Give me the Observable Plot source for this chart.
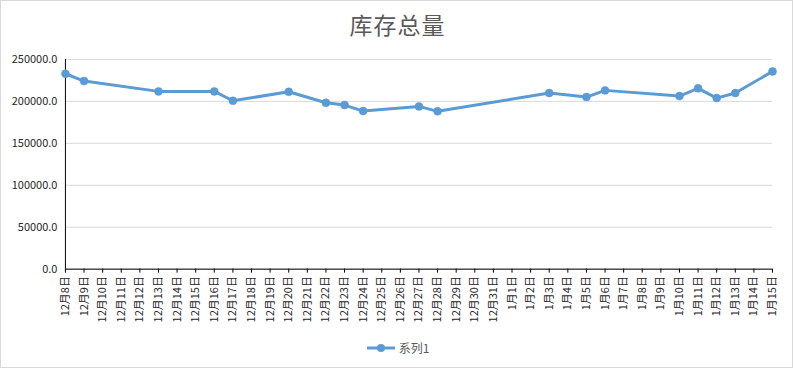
<!DOCTYPE html>
<html>
<head>
<meta charset="utf-8">
<script src="https://cdn.jsdelivr.net/npm/d3@7"></script>
<script src="https://cdn.jsdelivr.net/npm/@observablehq/plot@0.6"></script>
<style>
  html, body { margin: 0; padding: 0; background: #fff; }
  #wrap { position: relative; width: 793px; height: 368px; box-sizing: border-box; border: 1px solid #d9d9d9; overflow: hidden; font-family: "Noto Sans CJK SC", sans-serif; }
  #title { position: absolute; top: 6px; left: 0; width: 793px; text-align: center; font-size: 23px; color: #595959; font-family: "Noto Sans CJK SC", serif; letter-spacing: 1px; }
  #chart { position: absolute; top: -1px; left: -1px; }
  #legend { position: absolute; top: 338px; left: 0; width: 793px; display: flex; justify-content: center; align-items: center; font-size: 12px; color: #595959; }
  #legend svg { margin-right: 3px; }
</style>
</head>
<body>
<div id="wrap">
  <div id="title">库存总量</div>
  <div id="chart"></div>
  <div id="legend"><svg width="30" height="14"><line x1="1" y1="7" x2="29" y2="7" stroke="#5B9BD5" stroke-width="3"/><circle cx="15" cy="7" r="4" fill="#5B9BD5"/></svg><span>系列1</span></div>
</div>
<script>
const categories = [
  "12月8日","12月9日","12月10日","12月11日","12月12日","12月13日","12月14日","12月15日",
  "12月16日","12月17日","12月18日","12月19日","12月20日","12月21日","12月22日","12月23日",
  "12月24日","12月25日","12月26日","12月27日","12月28日","12月29日","12月30日","12月31日",
  "1月1日","1月2日","1月3日","1月4日","1月5日","1月6日","1月7日","1月8日","1月9日",
  "1月10日","1月11日","1月12日","1月13日","1月14日","1月15日"
];
const seriesDates = [
  "12月8日","12月9日","12月13日","12月16日","12月17日","12月20日","12月22日","12月23日",
  "12月24日","12月27日","12月28日","1月3日","1月5日","1月6日","1月10日","1月11日",
  "1月12日","1月13日","1月15日"
];
const seriesValues = [
  232900, 224200, 211900, 211900, 200700, 211400, 198300, 195600,
  188400, 194000, 188100, 209900, 205100, 213100, 206300, 215500,
  203900, 209900, 235700
];
const yTicks = [0, 50000, 100000, 150000, 200000, 250000];

const data = seriesDates.map((d, i) => ({date: d, value: seriesValues[i]}));
const color = "#5B9BD5";

const plot = Plot.plot({
  width: 793,
  height: 336,
  marginLeft: 65,
  marginRight: 20,
  marginTop: 59,
  marginBottom: 67,
  style: {fontFamily: "'Noto Sans CJK SC', sans-serif", fontSize: "11px", color: "#262626", background: "transparent"},
  x: {type: "point", domain: categories, padding: 0, round: false, label: null},
  y: {domain: [0, 250000], label: null},
  marks: [
    Plot.gridY(yTicks, {stroke: "#d9d9d9", strokeOpacity: 1, strokeWidth: 1}),
    Plot.axisY(yTicks, {tickSize: 0, tickPadding: 8, tickFormat: d => d.toFixed(1), fill: "#262626", label: null}),
    Plot.axisX(categories, {tickSize: 4, tickPadding: 3, tickRotate: -90, stroke: "#000", fill: "#262626", label: null}),
    Plot.ruleY([0], {stroke: "#000", strokeWidth: 1}),
    Plot.ruleX([categories[0]], {y1: 0, y2: 250000, stroke: "#000", strokeWidth: 1}),
    Plot.line(data, {x: "date", y: "value", stroke: color, strokeWidth: 3, curve: "linear"}),
    Plot.dot(data, {x: "date", y: "value", r: 4, fill: color, stroke: color, strokeWidth: 0.5})
  ]
});
document.getElementById("chart").appendChild(plot);
</script>
</body>
</html>
